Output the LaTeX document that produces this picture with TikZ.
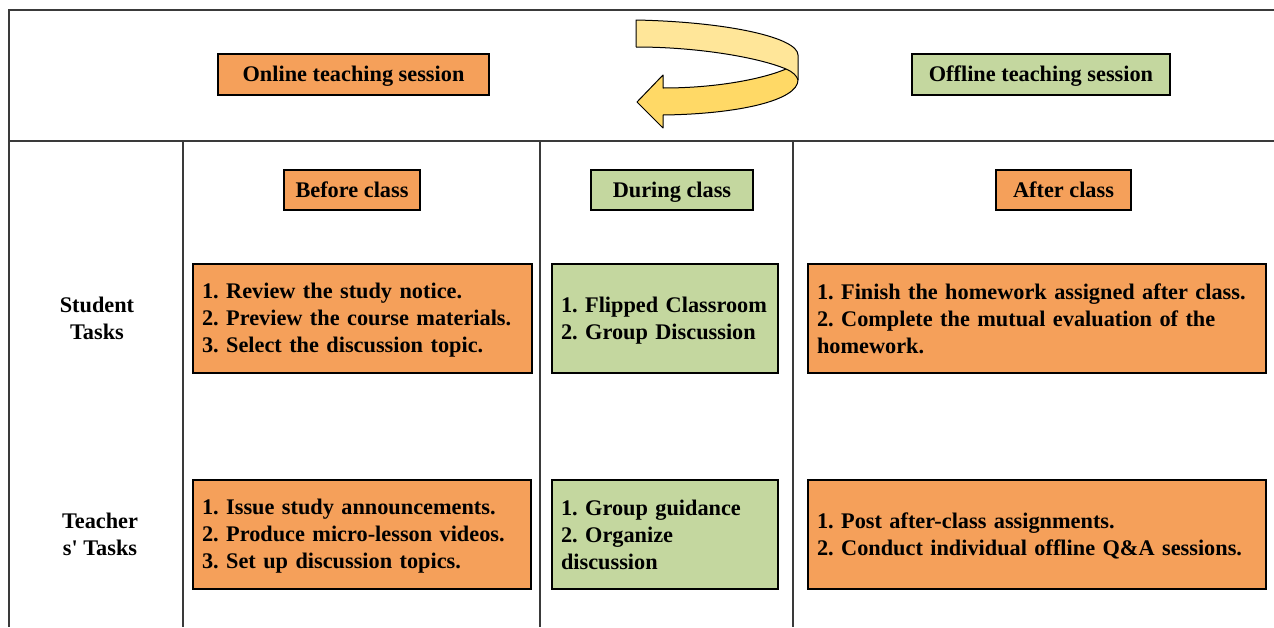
\documentclass[tikz,border=0pt]{standalone}
\usepackage{fontspec}
\setmainfont{Liberation Serif}
\definecolor{orng}{HTML}{F5A05A}
\definecolor{grn}{HTML}{C4D79F}
\definecolor{arlight}{HTML}{FFE699}
\definecolor{ardark}{HTML}{FFD966}
\definecolor{frame}{HTML}{3A3A3A}
\newcommand\topst{\rule{0pt}{19pt}}
\newcommand\botst{\rule[-4pt]{0pt}{4pt}}
\newcommand\taskfont{\fontsize{22.3}{27}\selectfont\bfseries\frenchspacing\hyphenpenalty=10000 }
\tikzset{
  frameline/.style={draw=frame, line width=1.3pt},
  hdr/.style={draw=black, line width=1.3pt, inner sep=0pt, minimum height=41pt,
    text height=16pt, text depth=2pt,
    font=\fontsize{22.3}{27}\selectfont\bfseries},
  task/.style={draw=black, line width=1.3pt, inner xsep=9pt, inner ysep=0pt,
    minimum height=109pt, align=left, font=\taskfont},
  rowlbl/.style={align=center, font=\fontsize{22.3}{27}\selectfont\bfseries},
  ribbon/.style={draw=black, line width=1pt, line join=round}
}
\begin{document}
\begin{tikzpicture}[x=1pt,y=-1pt]
\useasboundingbox (0,0) rectangle (1274,627);
% frame
\coordinate (tl) at (9,10);
\coordinate (tr) at (1274,10);
\coordinate (bl) at (9,627);
\coordinate (ml) at (9,141);
\coordinate (mr) at (1274,141);
\draw[frameline] (tr) -- (tl) -- (bl);
\draw[frameline] (ml) -- (mr);
\foreach \xx/\nm in {183/a,540/b,793/c}{
  \coordinate (v\nm1) at (\xx,141);
  \coordinate (v\nm2) at (\xx,627);
  \draw[frameline] (v\nm1) -- (v\nm2);
}
% curved arrow
\fill[arlight] (636,20) .. controls (730,22) and (798,38) .. (798,55) -- (798,80)
  .. controls (797,76) and (793,72) .. (786,69)
  .. controls (760,58) and (700,47) .. (636,47) -- cycle;
\fill[ardark] (663,88) .. controls (720,88) and (765,78) .. (786,69)
  .. controls (793,72) and (797,76) .. (798,80)
  .. controls (798,100) and (740,114) .. (663,115) -- (663,128) -- (637,102) -- (663,75) -- cycle;
\draw[ribbon] (636,47) -- (636,20) .. controls (730,22) and (798,38) .. (798,55) -- (798,80)
  .. controls (798,100) and (740,114) .. (663,115) -- (663,128) -- (637,102) -- (663,75) -- (663,88)
  .. controls (720,88) and (765,78) .. (786,69);
\draw[ribbon] (636,47) .. controls (700,47) and (760,58) .. (786,69)
  .. controls (793,72) and (797,76) .. (798,80);
% headers
\node[hdr, fill=orng, minimum width=271pt] (online) at (353.5,74.5) {Online teaching session};
\node[hdr, fill=grn, minimum width=258pt] (offline) at (1041,74.5) {Offline teaching session};
\node[hdr, fill=orng, minimum width=136pt, minimum height=40pt] (before) at (352,190) {Before class};
\node[hdr, fill=grn, minimum width=162pt, minimum height=40pt] (during) at (672,190) {During class};
\node[hdr, fill=orng, minimum width=135pt, minimum height=40pt] (after) at (1063.5,190) {After class};
% row labels
\node[rowlbl] (student) at (97,318) {Student\\Tasks};
\node[rowlbl] (teacher) at (100,534) {Teacher\\s\textquotesingle{} Tasks};
% tasks
\node[task, fill=orng, text width=321pt] (sb) at (362.5,318.5)
  {\topst 1. Review the study notice.\\2. Preview the course materials.\\3. Select the discussion topic.\botst};
\node[task, fill=grn, text width=208pt] (sd) at (665,318.5)
  {\topst 1. Flipped Classroom\\2. Group Discussion\botst};
\node[task, fill=orng, text width=440pt] (sa) at (1037,318.5)
  {\topst 1. Finish the homework assigned after class.\\2. Complete the mutual evaluation of the\\homework.\botst};
\node[task, fill=orng, text width=320pt] (tb) at (362,534.5)
  {\topst 1. Issue study announcements.\\2. Produce micro-lesson videos.\\3. Set up discussion topics.\botst};
\node[task, fill=grn, text width=208pt] (td) at (665,534.5)
  {\topst 1. Group guidance\\2. Organize\\discussion\botst};
\node[task, fill=orng, text width=440pt] (ta) at (1037,534.5)
  {\topst 1. Post after-class assignments.\\2. Conduct individual offline Q\&A sessions.\botst};
\end{tikzpicture}
\end{document}
